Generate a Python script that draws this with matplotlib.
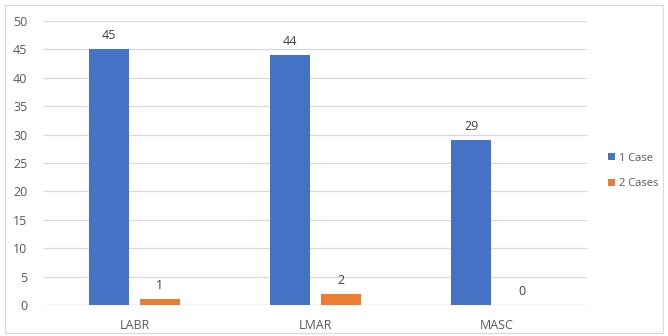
import matplotlib.pyplot as plt
import numpy as np
from matplotlib.patches import Rectangle

# data
categories = ['LABR', 'LMAR', 'MASC']
one_case = [45, 44, 29]
two_cases = [1, 2, 0]
series_names = ['1 Case', '2 Cases']

plt.rcParams['font.family'] = ['Open Sans', 'DejaVu Sans']

fig = plt.figure(figsize=(6.68, 3.36), dpi=100)
ax = fig.add_axes([44 / 668, 1 - 305 / 336, (587 - 44) / 668, (305 - 21) / 336])

x = np.arange(len(categories))
w = 0.22
off = 0.14
b1 = ax.bar(x - off, one_case, w, color='#4472C4', label=series_names[0], zorder=3)
b2 = ax.bar(x + off, two_cases, w, color='#ED7D31', label=series_names[1], zorder=3)

for bars in (b1, b2):
    ax.bar_label(bars, padding=5, fontsize=9, color='#404040')

ax.set_xlim(-0.5, 2.5)
ax.set_ylim(0, 50)
ax.set_yticks(range(0, 51, 5))
ax.set_xticks(x)
ax.set_xticklabels(categories)
ax.grid(axis='y', color='#D9D9D9', linewidth=0.9, zorder=0)
for s in ax.spines.values():
    s.set_visible(False)
ax.axhline(0, color='#D9D9D9', linewidth=0.9, zorder=2)
ax.tick_params(length=0, labelsize=9, colors='#595959')
ax.tick_params(axis='x', pad=10)
ax.tick_params(axis='y', pad=12)

fig.legend(loc='center left', bbox_to_anchor=(598 / 668, 1 - 171 / 336), frameon=False,
           fontsize=8, handlelength=0.6, handleheight=0.6, handletextpad=0.4,
           labelspacing=1.3, labelcolor='#595959')

# outer chart border
fig.patches.append(Rectangle((5 / 668, 3 / 336), 658 / 668, 328 / 336, transform=fig.transFigure,
                             fill=False, edgecolor='#D9D9D9', linewidth=0.8))

fig.savefig('out.png', dpi=100)
